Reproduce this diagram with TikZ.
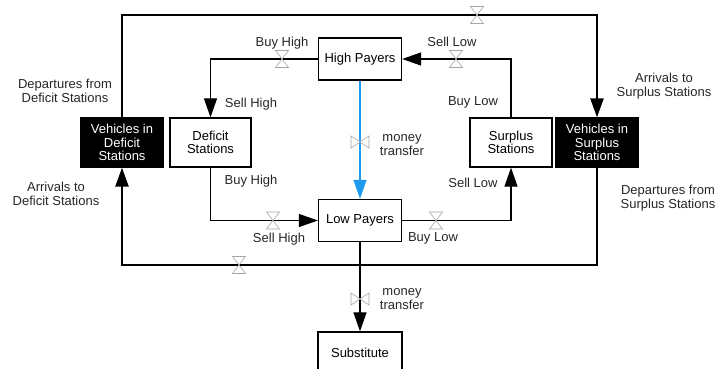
\documentclass[tikz,border=0pt]{standalone}
\usepackage{fontspec}
\setmainfont{Liberation Sans}
\usetikzlibrary{arrows.meta}
\definecolor{flowblue}{RGB}{30,155,240}
\definecolor{valvegray}{RGB}{165,165,165}
\tikzset{
  every node/.style={font=\fontsize{13}{13.5}\selectfont},
  stock/.style={draw=black,line width=1.3pt,fill=white,align=center,inner sep=1pt},
  bigstock/.style={stock,minimum width=82pt,minimum height=49pt},
  paystock/.style={stock,minimum width=83pt,minimum height=42pt},
  darkstock/.style={bigstock,fill=black,text=white},
  lbl/.style={align=center,inner sep=0pt,text=black!85},
  pipe/.style={line width=1.2pt},
  loop/.style={line width=2.3pt},
  tip/.style={-{Triangle[length=19pt,width=13pt]}},
  valve/.style={draw=valvegray,line width=0.6pt,fill=white},
  hvalve/.pic={\draw[valve] (-6.5,-8.5) -- (6.5,-8.5) -- (-6.5,8.5) -- (6.5,8.5) -- cycle;},
  vvalve/.pic={\draw[valve] (-9,-6) -- (-9,6) -- (9,-6) -- (9,6) -- cycle;}
}
\begin{document}
\begin{tikzpicture}[x=1pt,y=-1pt]
\useasboundingbox (0,0) rectangle (716,369);
\clip (0,0) rectangle (716,369);

% stocks
\node[paystock] (hp) at (360,59) {High Payers};
\node[paystock] (lp) at (360,220.5) {Low Payers};
\node[paystock,minimum width=84pt] (sub) at (360,353) {Substitute};
\node[bigstock,minimum width=81pt] (ds) at (210.5,142.5) {Deficit\\Stations};
\node[bigstock,minimum width=82pt] (ss) at (511,142.5) {Surplus\\Stations};
\node[darkstock] (vd) at (122,142.5) {Vehicles in\\Deficit\\Stations};
\node[darkstock] (vs) at (597,142.5) {Vehicles in\\Surplus\\Stations};

% big vehicle loop
\coordinate (tl) at (122,15);
\coordinate (tr) at (597,15);
\coordinate (bl) at (122,265);
\coordinate (br) at (597,265);
\draw[loop,tip] (vd.north) -- (tl) -- (tr) -- (vs.north);
\draw[loop,tip] (vs.south) -- (br) -- (bl) -- (vd.south);
\pic at (477,15) {hvalve};
\pic at (239,265) {hvalve};

% market pipes
\draw[pipe,tip] (hp.west) -| (ds.north);
\draw[pipe,tip] (ss.north) |- (hp.east);
\draw[pipe,tip] (ds.south) |- (lp.west);
\draw[pipe,tip] (lp.east) -| (ss.south);
\pic at (282,59) {hvalve};
\pic at (456,59) {hvalve};
\pic at (273,220.5) {hvalve};
\pic at (436,220.5) {hvalve};

% money transfers
\draw[pipe,draw=flowblue,-{Triangle[length=19pt,width=13pt,fill=flowblue]}] (hp.south) -- (lp.north);
\pic at (360,142) {vvalve};
\draw[pipe,tip] (lp.south) -- (sub.north);
\pic at (360,299) {vvalve};

% labels
\node[lbl] (l1) at (282,43) {Buy High};
\node[lbl] (l2) at (251,104) {Sell High};
\node[lbl] (l3) at (452,42) {Sell Low};
\node[lbl] (l4) at (473,102) {Buy Low};
\node[lbl] (l5) at (402,145) {money\\transfer};
\node[lbl] (l6) at (251,181) {Buy High};
\node[lbl] (l7) at (279,239) {Sell High};
\node[lbl] (l8) at (473,183) {Sell Low};
\node[lbl] (l9) at (433,238) {Buy Low};
\node[lbl] (l10) at (402,299) {money\\transfer};
\node[lbl] (l11) at (65,91) {Departures from\\Deficit Stations};
\node[lbl] (l12) at (56,194) {Arrivals to\\Deficit Stations};
\node[lbl] (l13) at (664,86) {Arrivals to\\Surplus Stations};
\node[lbl] (l14) at (668,198) {Departures from\\Surplus Stations};
\end{tikzpicture}
\end{document}
